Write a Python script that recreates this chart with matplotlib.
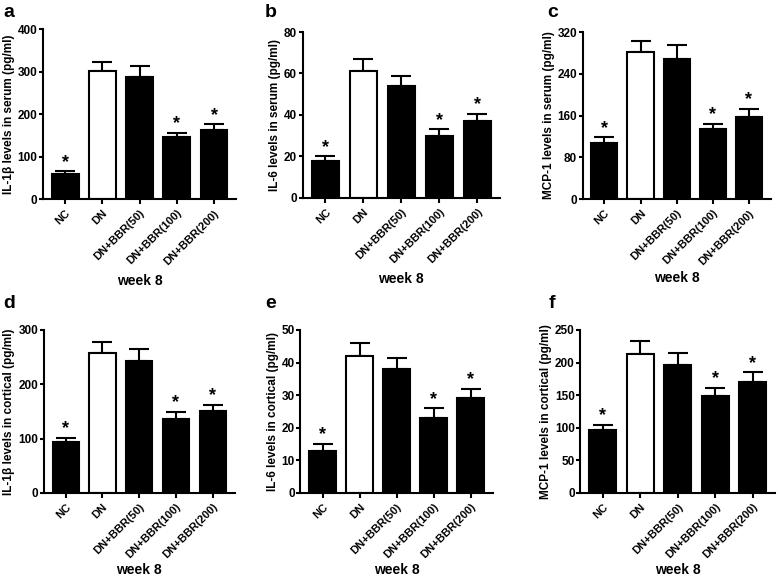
import matplotlib
matplotlib.use("Agg")
import matplotlib.pyplot as plt

plt.rcParams['font.family'] = ['Liberation Sans', 'DejaVu Sans']
plt.rcParams['font.weight'] = 'bold'

groups = ["NC", "DN", "DN+BBR(50)", "DN+BBR(100)", "DN+BBR(200)"]

il1b_serum = [60, 302, 287, 146, 163]
il1b_serum_err = [5, 20, 25, 10, 13]
il6_serum = [18, 61, 54, 30, 37]
il6_serum_err = [2, 6, 5, 3, 3.5]
mcp1_serum = [108, 282, 268, 134, 158]
mcp1_serum_err = [10, 20, 27, 10, 15]
il1b_cort = [93, 257, 242, 137, 151]
il1b_cort_err = [9, 20, 23, 12, 11]
il6_cort = [13, 42, 38, 23, 29]
il6_cort_err = [2, 4, 3.5, 3, 3]
mcp1_cort = [97, 213, 197, 148, 170]
mcp1_cort_err = [8, 20, 18, 13, 15]

significant = [True, False, False, True, True]

# letter, values, errors, y label, y max, tick step, axes rect, letter position, xlabel pad
panels = [
    ("a", il1b_serum, il1b_serum_err, "IL-1\u03b2 levels in serum (pg/ml)", 400, 100,
     [0.055, 0.658, 0.248, 0.292], (0.004, 0.971), 5),
    ("b", il6_serum, il6_serum_err, "IL-6 levels in serum (pg/ml)", 80, 20,
     [0.388, 0.660, 0.253, 0.285], (0.340, 0.971), 5),
    ("c", mcp1_serum, mcp1_serum_err, "MCP-1 levels in serum (pg/ml)", 320, 80,
     [0.747, 0.658, 0.241, 0.287], (0.701, 0.971), 3),
    ("d", il1b_cort, il1b_cort_err, "IL-1\u03b2 levels in cortical (pg/ml)", 300, 100,
     [0.056, 0.153, 0.245, 0.280], (0.004, 0.471), 2),
    ("e", il6_cort, il6_cort_err, "IL-6 levels in cortical (pg/ml)", 50, 10,
     [0.385, 0.153, 0.247, 0.280], (0.340, 0.471), 2),
    ("f", mcp1_cort, mcp1_cort_err, "MCP-1 levels in cortical (pg/ml)", 250, 50,
     [0.744, 0.153, 0.250, 0.280], (0.703, 0.471), 2),
]

fig = plt.figure(figsize=(7.8, 5.82), dpi=100)

for letter, vals, errs, ylabel, ymax, step, pos, lpos, xpad in panels:
    ax = fig.add_axes(pos)
    x = list(range(len(groups)))
    colors = ['white' if g == "DN" else 'black' for g in groups]
    ax.bar(x, vals, width=0.72, color=colors, edgecolor='black', linewidth=1.5, zorder=2)
    ax.errorbar(x, vals, yerr=[[0] * len(errs), errs], fmt='none', ecolor='black',
                elinewidth=1.5, capsize=7, capthick=1.5, zorder=1)
    for xi, v, e, s in zip(x, vals, errs, significant):
        if s:
            ax.text(xi, v + e + ymax * 0.003, "*", ha='center', va='bottom',
                    fontsize=13, fontweight='bold')
    ax.set_xlim(-0.6, 4.6)
    ax.set_ylim(0, ymax)
    ax.set_yticks(range(0, ymax + 1, step))
    ax.set_xticks(x)
    ax.set_xticklabels(groups, rotation=45, ha='right', rotation_mode='anchor',
                       fontsize=8, fontweight='bold')
    ax.tick_params(axis='y', labelsize=8.5, width=1.5, length=3, pad=1)
    ax.tick_params(axis='x', width=1.5, length=3.5, pad=3)
    for lab in ax.get_yticklabels():
        lab.set_fontweight('bold')
    ax.spines['top'].set_visible(False)
    ax.spines['right'].set_visible(False)
    ax.spines['left'].set_linewidth(1.5)
    ax.spines['bottom'].set_linewidth(1.5)
    ax.set_ylabel(ylabel, fontsize=8.5, fontweight='bold', labelpad=2)
    ax.set_xlabel("week 8", fontsize=10, fontweight='bold', labelpad=xpad)
    fig.text(lpos[0], lpos[1], letter, fontsize=14, fontweight='bold',
             ha='left', va='baseline')

fig.savefig("out.png", dpi=100)
